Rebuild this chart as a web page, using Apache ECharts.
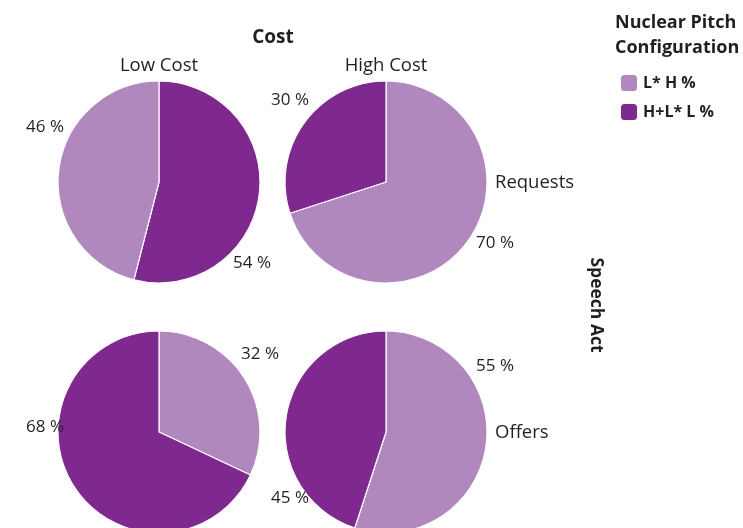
<!DOCTYPE html>
<html><head><meta charset="utf-8">
<script src="https://cdn.jsdelivr.net/npm/echarts@6/dist/echarts.min.js"></script>
<style>html,body{margin:0;padding:0;background:#fff}#c{width:743px;height:528px}</style>
</head><body><div id="c"></div>
<script>
// ---- data ----
var costLevels = ['Low Cost', 'High Cost'];
var speechActs = ['Requests', 'Offers'];
var configs = ['L* H %', 'H+L* L %'];
// percentages [L* H %, H+L* L %] per speech act / cost
var requestsLow = [46, 54];
var requestsHigh = [70, 30];
var offersLow = [32, 68];
var offersHigh = [55, 45];
// slice order (clockwise from 12 o'clock) per pie: indices into configs
var sliceOrder = [[1, 0], [0, 1], [0, 1], [0, 1]];

// ---- styling / layout ----
var FONT = '"Open Sans", "Noto Sans", sans-serif';
var TXT = '#231f20';
var colors = {'L* H %': '#b088be', 'H+L* L %': '#7e2890'};
var centers = [[159, 182], [386, 182], [159, 432], [386, 432]];
var R = 101;
// label offsets (relative to pie centre) per pie, per config index
var labelOffsets = [
  [[-114, -55], [93, 81]],
  [[109, 61], [-96, -82]],
  [[101, -78], [-114, -5]],
  [[109, -66], [-96, 66]]
];

var pieValues = [requestsLow, requestsHigh, offersLow, offersHigh];
var series = pieValues.map(function (vals, p) {
  return {
    type: 'pie',
    center: centers[p],
    radius: R,
    startAngle: 90,
    clockwise: true,
    animation: false,
    avoidLabelOverlap: false,
    itemStyle: {borderColor: '#fff', borderWidth: 1.2},
    label: {show: true, position: 'outside', formatter: '{c} %', fontFamily: FONT, fontSize: 17, color: TXT},
    labelLine: {show: false},
    emphasis: {disabled: true},
    labelLayout: function (params) {
      var ci = configs.indexOf(series[params.seriesIndex].data[params.dataIndex].name);
      var off = labelOffsets[params.seriesIndex][ci];
      return {x: centers[params.seriesIndex][0] + off[0], y: centers[params.seriesIndex][1] + off[1], align: 'center', verticalAlign: 'middle'};
    },
    data: sliceOrder[p].map(function (ci) {
      return {name: configs[ci], value: vals[ci], itemStyle: {color: colors[configs[ci]]}};
    })
  };
});

function txt(x, y, text, opts) {
  return Object.assign({type: 'text', x: x, y: y, style: Object.assign({text: text, fill: TXT, font: '16px ' + FONT, textAlign: 'center', textVerticalAlign: 'middle'}, opts && opts.style || {})}, opts && opts.el || {});
}

var chart = echarts.init(document.getElementById('c'), null, {renderer: 'canvas'});
chart.setOption({
  animation: false,
  legend: {
    orient: 'vertical', left: 614, top: 68, itemWidth: 18, itemHeight: 18, itemGap: 9,
    icon: 'roundRect', data: configs, selectedMode: false,
    textStyle: {fontFamily: FONT, fontSize: 16, fontWeight: 'bold', color: TXT, padding: [0, 0, 0, 0]}
  },
  graphic: [
    txt(273, 38, 'Cost', {style: {font: 'bold 19px ' + FONT}}),
    txt(159, 66, costLevels[0], {style: {font: '18.5px ' + FONT}}),
    txt(386, 66, costLevels[1], {style: {font: '18.5px ' + FONT}}),
    txt(495, 183, speechActs[0], {style: {font: '18.5px ' + FONT, textAlign: 'left'}}),
    txt(495, 433, speechActs[1], {style: {font: '18.5px ' + FONT, textAlign: 'left'}}),
    txt(596, 305, 'Speech Act', {style: {font: 'bold 17.5px ' + FONT}, el: {rotation: -Math.PI / 2}}),
    txt(615, 23, 'Nuclear Pitch', {style: {font: 'bold 18px ' + FONT, textAlign: 'left'}}),
    txt(615, 48, 'Configuration', {style: {font: 'bold 18px ' + FONT, textAlign: 'left'}})
  ],
  series: series
});
</script></body></html>
